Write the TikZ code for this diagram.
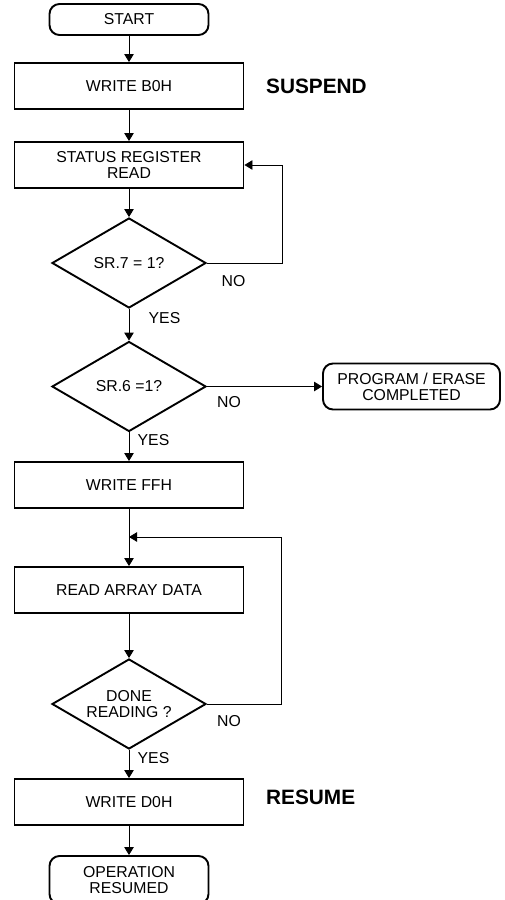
\documentclass[tikz,border=0pt]{standalone}
\usepackage{fontspec}
\setmainfont{Liberation Sans}
\usetikzlibrary{shapes.geometric,arrows.meta}
\begin{document}
\begin{tikzpicture}[x=1pt,y=-1pt,
  every node/.style={font=\fontsize{15.8}{16}\selectfont, align=center, inner sep=0pt},
  procbox/.style={draw, line width=1.9pt, minimum width=229pt, minimum height=46pt},
  termbox/.style={draw, line width=1.9pt, rounded corners=10pt, minimum width=159pt, minimum height=31pt},
  decbox/.style={draw, diamond, aspect=1.7, line width=1.9pt, minimum width=154pt, minimum height=90pt},
  conn/.style={line width=0.9pt, -{Triangle[length=8pt,width=9.5pt]}},
  big/.style={font=\fontsize{20.8}{22}\selectfont\bfseries, anchor=west}
]
\useasboundingbox (0,0) rectangle (504,900);
\clip (0,0) rectangle (504,900);

\node[termbox] (start) at (129,19.5) {START};
\node[procbox] (b0h) at (129,86) {WRITE B0H};
\node[big] (susp) at (266,86) {SUSPEND};
\node[procbox] (srr) at (129,165) {STATUS REGISTER\\READ};
\node[decbox] (d1) at (129,263) {SR.7 = 1?};
\node (no1) at (233.5,281) {NO};
\node (yes1) at (164.5,318) {YES};
\node[decbox] (d2) at (129,386.5) {SR.6 =1?};
\node (no2) at (229,402) {NO};
\node (yes2) at (153.5,440) {YES};
\node[termbox, minimum width=177pt, minimum height=46pt] (pe) at (411.5,386.5) {PROGRAM / ERASE\\COMPLETED};
\node[procbox] (ffh) at (129,485) {WRITE FFH};
\node[procbox] (rad) at (129,590) {READ ARRAY DATA};
\node[decbox] (d3) at (129,704) {DONE\\READING ?};
\node (no3) at (229,721) {NO};
\node (yes3) at (153.5,758) {YES};
\node[procbox] (d0h) at (129,802) {WRITE D0H};
\node[big] (res) at (266,797) {RESUME};
\node[termbox, minimum height=48pt] (opr) at (129,880) {OPERATION\\RESUMED};
\coordinate (j) at (129,537);

\draw[conn] (start) -- (b0h);
\draw[conn] (b0h) -- (srr);
\draw[conn] (srr) -- (d1);
\draw[conn] (d1.east) -- ++(75,0) |- (srr.east);
\draw[conn] (d1) -- (d2);
\draw[conn] (d2.east) -- (pe.west);
\draw[conn] (d2) -- (ffh);
\draw[conn] (ffh) -- (rad);
\draw[conn] (d3.east) -- ++(74,0) |- (j);
\draw[conn] (rad) -- (d3);
\draw[conn] (d3) -- (d0h);
\draw[conn] (d0h) -- (opr);
\end{tikzpicture}
\end{document}
